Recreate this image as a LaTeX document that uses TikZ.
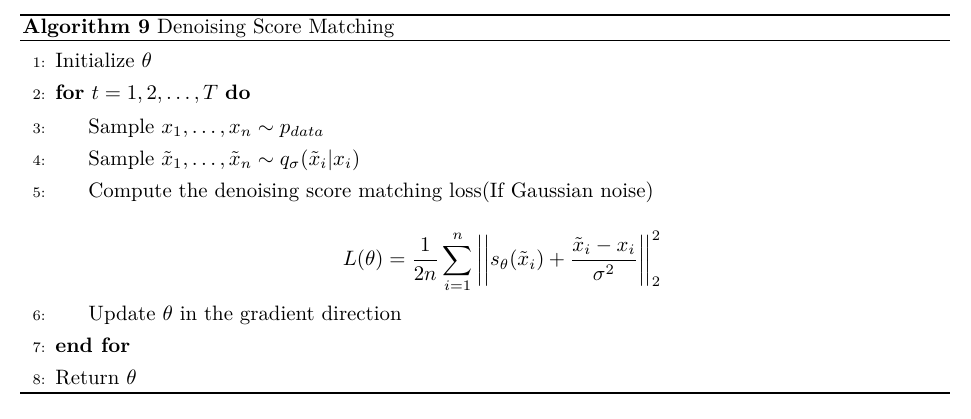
\documentclass[tikz,border=0pt]{standalone}
\usepackage{amsmath,amssymb}
\usepackage{tikz}
\tikzset{
  num/.style={anchor=base east,font=\scriptsize,inner sep=0pt},
  txt/.style={anchor=base west,inner sep=0pt},
}
\begin{document}
\begin{tikzpicture}[x=0.48pt,y=-0.48pt]
			\useasboundingbox (0,0) rectangle (971,418);
			\draw[line width=0.7pt] (20,15) -- (950,15);
			\draw[line width=0.4pt] (20,40) -- (950,40);
			\draw[line width=0.7pt] (20,393) -- (950,393);
			\node[txt] (head) at (22,33) {\textbf{Algorithm 9} Denoising Score Matching};
			
			\foreach \n/\y in
			{1/67, 2/99, 3/133, 4/165, 5/197, 6/320, 7/352, 8/384}{
				\node[num] (n\n) at (46,\y) {\n:};
			}
			\node[txt] (l1) at (55,67) {Initialize $\theta$};
			\node[txt] (l2) at (55,99) {\textbf{for} $t=1,2,\ldots,T$ \textbf{do}};
			\node[txt] (l3) at (88,133) {Sample $x_1,\ldots,x_n\sim p_{data}$};
			\node[txt] (l4) at (88,165) {Sample $\tilde{x}_1,\ldots,\tilde{x}_n\sim q_\sigma(\tilde{x}_i|x_i)$};
			\node[txt] (l5) at (88,197) {Compute the denoising score matching loss(If Gaussian noise)};
			\node[inner sep=0pt] (loss) at (502,262)
			{$\displaystyle L(\theta)=\frac{1}{2n}\sum_{i=1}^{n}\left|\left|s_\theta(\tilde{x}_i)+\frac{\tilde{x}_i-x_i}{\sigma^2}\right|\right|_2^2$};
			\node[txt] (l6) at (88,320) {Update $\theta$ in the gradient direction};
			\node[txt] (l7) at (55,352) {\textbf{end for}};
			\node[txt] (l8) at (55,384) {Return $\theta$};
		\end{tikzpicture}
\end{document}
